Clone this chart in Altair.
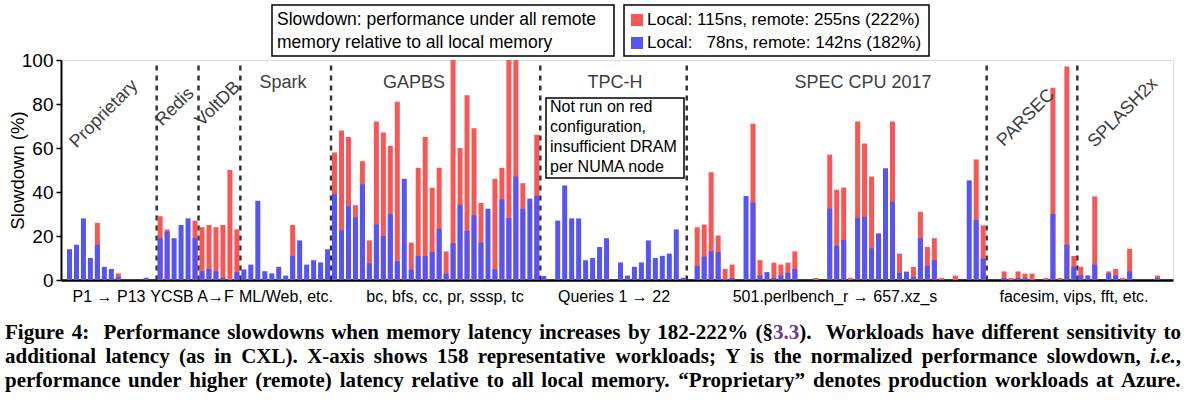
import altair as alt
import pandas as pd

# ---------------- data ----------------
groups = ["Proprietary", "Redis", "VoltDB", "Spark", "GAPBS", "TPC-H",
          "SPEC CPU 2017", "PARSEC", "SPLASH2x"]

red_proprietary = [0, 0, 0, 0, 26, 0, 0, 3, 0, 0, 0, 0, 0]
blue_proprietary = [14, 16, 28, 10, 16, 6, 5, 1.5, 0, 0, 0, 1, 0]

red_redis = [29, 23, 0, 0, 0, 27]
blue_redis = [19, 22, 19, 25, 28, 19]

red_voltdb = [24, 25, 24, 25, 50, 23]
blue_voltdb = [4, 5, 4, 1, 0, 3.6]

red_spark = [0, 0, 0, 0, 0, 0, 0, 25, 0, 0, 0, 0, 0]
blue_spark = [4.8, 7, 36, 4, 3, 6, 2, 11, 18, 7, 9, 8, 14]

red_gapbs = [58, 68, 65, 34, 54, 18, 72, 67, 61, 81, 0, 17, 51, 65, 42,
             51, 13, 100, 60, 84, 69, 35, 0, 46, 51, 100, 100, 44, 0, 66]
blue_gapbs = [39, 22.5, 33.6, 28.6, 43.5, 7.6, 25.2, 20, 30, 8.5, 46, 4.7, 10.9, 10.9, 12.7,
              23.3, 3, 16.7, 34.2, 22.3, 29.4, 17, 32.4, 4.8, 36.7, 28.2, 47, 32.4, 37, 38.2]

red_tpch = [0] * 22
blue_tpch = [1.8, 0, 27, 43, 28, 28, 9, 10, 15, 19, 0, 8, 2, 6, 8, 18, 10, 11, 12, 23, 1, 0]

red_spec = [24, 25.2, 49, 20.2, 5, 7, 0, 0, 71, 9, 0, 7.9, 7, 7.9, 13, 0, 0, 0.9, 0, 57, 41,
            42, 1, 72, 62, 47, 0, 0, 72, 12, 0, 5.9, 31, 15, 19, 0.9, 0, 2, 0, 0, 54.8, 24.8]
blue_spec = [6.3, 10.6, 13.2, 12.7, 0.3, 0.9, 0, 38.2, 35.2, 2.1, 3.6, 0.9, 2.1, 3.3, 5, 0, 0, 0, 0,
             32.4, 15.6, 18.2, 0, 28.2, 28.6, 14.4, 21.2, 50.8, 35.5, 3.3, 3.8, 1.3, 19, 6.4, 9,
             0, 0, 0, 0, 45.3, 27.3, 9.7]

red_parsec = [0, 0, 3.9, 0.9, 3.9, 2.9, 2.9, 0, 0.9, 87.4, 0.9, 97, 10.9]
blue_parsec = [0, 0, 0.9, 0, 0.9, 0.9, 0, 0, 0, 30, 0, 16, 6]

red_splash = [6, 0, 38, 0, 3.9, 5, 0.9, 14.2, 0, 0, 0, 2, 0]
blue_splash = [2.1, 2.1, 7, 0, 3, 2.1, 0, 3.9, 0, 0, 0, 0.9, 0]

# workload index where a dashed separator is drawn (between slots)
separators = [12.5, 18.5, 24.5, 37.5, 67.5, 88.5, 131.5, 144.5]

x_labels = ["P1 \u2192 P13", "YCSB A\u2192F", "ML/Web, etc.", "bc, bfs, cc, pr, sssp, tc",
            "Queries 1 \u2192 22", "501.perlbench_r \u2192 657.xz_s", "facesim, vips, fft, etc."]

legend_labels = ["Local: 115ns, remote: 255ns (222%)",
                 "Local:\u00a0\u00a0\u00a078ns, remote: 142ns (182%)"]

caption_lines = [
    "Figure 4:  Performance slowdowns when memory latency increases by 182-222% (\u00a73.3).  Workloads have different sensitivity to",
    "additional latency (as in CXL). X-axis shows 158 representative workloads; Y is the normalized performance slowdown, i.e.,",
    "performance under higher (remote) latency relative to all local memory. \u201cProprietary\u201d denotes production workloads at Azure.",
]

red = (red_proprietary + red_redis + red_voltdb + red_spark + red_gapbs +
       red_tpch + red_spec + red_parsec + red_splash)
blue = (blue_proprietary + blue_redis + blue_voltdb + blue_spark + blue_gapbs +
        blue_tpch + blue_spec + blue_parsec + blue_splash)

df = pd.DataFrame({"k": list(range(len(red))), "red": red, "blue": blue})
df_red = df[df["red"] > 0]
df_blue = df[df["blue"] > 0]
df_sep = pd.DataFrame({"pos": separators})

RED = "#F95656"
BLUE = "#5555F6"
GRAY = "#3d3d3d"
PURPLE = "#6b3590"
FONT = "Liberation Sans"
SERIF = "Liberation Serif"

W, H = 1112, 220
xscale = alt.Scale(domain=[-0.5, len(red) - 0.5], nice=False, zero=False)
yscale = alt.Scale(domain=[0, 100], nice=False)

xaxis = alt.Axis(labels=False, ticks=False, grid=False, title=None,
                 domainColor="black", domainWidth=2.5)
yaxis = alt.Axis(values=[0, 20, 40, 60, 80, 100], title="Slowdown (%)",
                 labelFontSize=19, labelColor="black", labelFont=FONT, labelPadding=3,
                 tickSize=5, tickColor="black", tickWidth=1.5,
                 domainColor="black", domainWidth=2,
                 gridColor="#cfcfcf", gridWidth=1,
                 titleFontSize=18.5, titleFontWeight="normal", titleColor="black",
                 titleFont=FONT, titleX=-44, titleY=110, titleAngle=-90,
                 titleAlign="center", titleBaseline="middle")

red_bars = alt.Chart(df_red).mark_bar(size=5, color=RED, clip=True).encode(
    x=alt.X("k:Q", scale=xscale, axis=xaxis),
    y=alt.Y("red:Q", scale=yscale, axis=yaxis),
)
blue_bars = alt.Chart(df_blue).mark_bar(size=5, color=BLUE, clip=True).encode(
    x=alt.X("k:Q", scale=xscale, axis=xaxis),
    y=alt.Y("blue:Q", scale=yscale, axis=yaxis),
)
seps = alt.Chart(df_sep).mark_rule(color="#333333", strokeWidth=2.5, strokeDash=[5, 5]).encode(
    x=alt.X("pos:Q", scale=xscale, axis=xaxis),
    y=alt.datum(97.5),
    y2=alt.datum(0),
)

layers = [seps, red_bars, blue_bars]


def text_layer(txt, x, y, size, color="black", angle=0, align="center", font=FONT,
               weight="normal", baseline="middle"):
    kw = dict(fontSize=size, color=color, align=align, baseline=baseline, font=font,
              fontWeight=weight)
    if angle:
        kw["angle"] = angle
    return alt.Chart(pd.DataFrame({"t": [txt]})).mark_text(**kw).encode(
        text="t:N", x=alt.value(x), y=alt.value(y))


def box_layer(x1, y1, x2, y2, width=1.5):
    return alt.Chart(pd.DataFrame({"t": [0]})).mark_rect(
        fill="white", stroke="black", strokeWidth=width).encode(
        x=alt.value(x1), x2=alt.value(x2), y=alt.value(y1), y2=alt.value(y2))


# group names
group_pos = [(43, 54, 315), (114, 47, 315), (157, 44, 315), (222, 23, 0), (353, 23, 0),
             (554, 23, 0), (802, 23, 0), (965, 58, 315), (1062, 53, 315)]
for name, (gx, gy, ga) in zip(groups, group_pos):
    layers.append(text_layer(name, gx, gy, 18, color=GRAY, angle=ga))

# x labels under the axis
xl_pos = [48, 131, 225, 384, 553, 774, 1013]
for lab, lx in zip(x_labels, xl_pos):
    layers.append(text_layer(lab, lx, 237, 16))

# description box
layers.append(box_layer(211, -55, 553, -4))
layers.append(text_layer("Slowdown: performance under all remote", 216, -40, 17.5, align="left"))
layers.append(text_layer("memory relative to all local memory", 216, -17, 17.5, align="left"))

# legend box
layers.append(box_layer(563, -55, 868, -4))
layers.append(alt.Chart(pd.DataFrame({"t": [0]})).mark_rect(color=RED).encode(
    x=alt.value(570), x2=alt.value(582), y=alt.value(-46), y2=alt.value(-34)))
layers.append(alt.Chart(pd.DataFrame({"t": [0]})).mark_rect(color=BLUE).encode(
    x=alt.value(570), x2=alt.value(582), y=alt.value(-23), y2=alt.value(-11)))
layers.append(text_layer(legend_labels[0], 586, -40, 17, align="left"))
layers.append(text_layer(legend_labels[1], 586, -17, 17, align="left"))

# TPC-H note box
layers.append(box_layer(485, 38, 623, 118))
for i, line in enumerate(["Not run on red", "configuration,", "insufficient DRAM", "per NUMA node"]):
    layers.append(text_layer(line, 489, 47 + 20 * i, 16, align="left"))

# ---------------- justified caption ----------------
# Times-Bold advance widths (per 1000 em) - Liberation Serif Bold is metric compatible
_tb = {
    " ": 250, "!": 333, "%": 1000, "(": 333, ")": 333, ",": 250, "-": 333, ".": 250,
    ":": 333, ";": 333, "\u00a7": 500, "\u201c": 500, "\u201d": 500,
    "A": 722, "B": 667, "C": 722, "D": 722, "E": 667, "F": 611, "G": 778, "H": 778,
    "I": 389, "J": 500, "K": 778, "L": 667, "M": 944, "N": 722, "O": 778, "P": 611,
    "Q": 778, "R": 722, "S": 556, "T": 667, "U": 722, "V": 722, "W": 1000, "X": 722,
    "Y": 722, "Z": 667,
    "a": 500, "b": 556, "c": 444, "d": 556, "e": 444, "f": 333, "g": 500, "h": 556,
    "i": 278, "j": 333, "k": 556, "l": 278, "m": 833, "n": 556, "o": 500, "p": 556,
    "q": 556, "r": 444, "s": 389, "t": 333, "u": 556, "v": 500, "w": 722, "x": 500,
    "y": 500, "z": 444,
}
CAP_SIZE = 21
CAP_LEFT, CAP_RIGHT = -56, 1120   # relative to plot origin (abs 5 .. 1181)


def tw(s):
    return sum(_tb.get(c, 500) for c in s) * CAP_SIZE / 1000.0


def pieces(word):
    if "3.3" in word:
        a, b = word.split("3.3")
        return [(a, "black", False), ("3.3", PURPLE, False), (b, "black", False)]
    if word == "i.e.,":
        return [("i.e.", "black", True), (",", "black", False)]
    return [(word, "black", False)]


rows = []
for li, line in enumerate(caption_lines):
    words = line.split(" ")
    widths = [tw(w) for w in words]
    gap = (CAP_RIGHT - CAP_LEFT - sum(widths)) / (len(words) - 1)
    xpos = CAP_LEFT
    for w, wd in zip(words, widths):
        px = xpos
        for txt, col, ital in pieces(w):
            if txt:
                rows.append({"t": txt, "px": px, "py": 273 + 24 * li, "c": col, "it": ital})
                px += tw(txt)
        xpos += wd + gap
cap_df = pd.DataFrame(rows)

for ital in (False, True):
    sub = cap_df[cap_df["it"] == ital]
    if len(sub):
        layers.append(alt.Chart(sub).mark_text(
            font=SERIF, fontWeight="bold", fontSize=CAP_SIZE, align="left", baseline="middle",
            fontStyle="italic" if ital else "normal").encode(
            text="t:N",
            x=alt.X("px:Q", scale=None, axis=None),
            y=alt.Y("py:Q", scale=None, axis=None),
            color=alt.Color("c:N", scale=None, legend=None)))

chart = alt.layer(*layers).properties(
    width=W, height=H,
    autosize=alt.AutoSizeParams(type="none"),
    padding={"left": 61, "top": 60, "right": 13, "bottom": 120},
    background="white",
).configure_view(stroke=None).configure(font=FONT)

chart.save("out.html", embed_options={"renderer": "svg", "actions": False})
